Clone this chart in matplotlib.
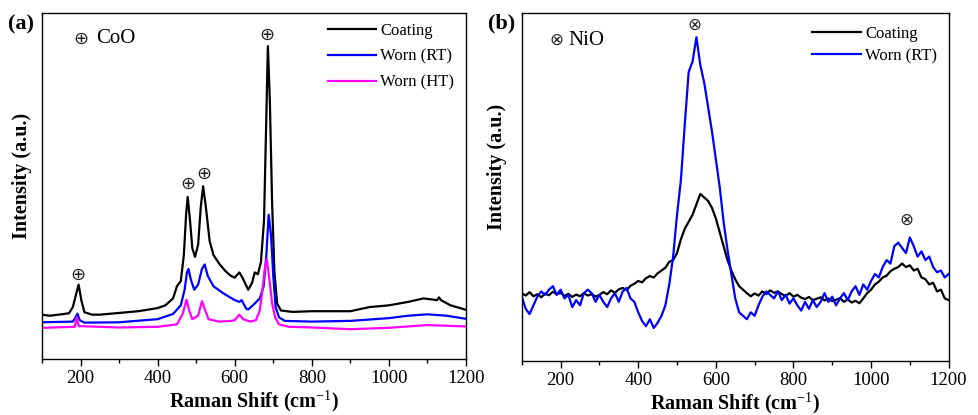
import matplotlib
matplotlib.use("Agg")
import matplotlib.pyplot as plt
from matplotlib.ticker import MultipleLocator

plt.rcParams['font.family'] = ['Liberation Serif', 'DejaVu Sans']
plt.rcParams['mathtext.fontset'] = 'custom'
plt.rcParams['mathtext.rm'] = 'Liberation Serif'
plt.rcParams['mathtext.bf'] = 'Liberation Serif:bold'

# ---------------- Panel (a): CoO ----------------
a_coat_x = [100, 120, 150, 170, 180, 188, 195, 202, 210, 230, 250, 300, 350, 400, 420, 440, 450, 460, 468, 474,
            478, 484, 490, 497, 505, 512, 518, 525, 535, 545, 560, 575, 590, 600, 612, 620, 635, 645, 652, 660,
            668, 676, 681, 686, 691, 697, 703, 710, 720, 750, 800, 850, 900, 950, 1000, 1050, 1090, 1125, 1130,
            1135, 1160, 1200]
a_coat_y = [12.8, 12.5, 12.9, 13.2, 15.0, 18.5, 21.5, 17.0, 13.5, 12.8, 12.8, 13.3, 13.8, 14.7, 15.5, 17.5, 21.0,
            22.5, 30.0, 42.0, 46.8, 40.0, 32.0, 29.5, 33.0, 44.0, 49.9, 44.0, 34.0, 30.0, 27.5, 25.5, 24.0, 23.5,
            25.0, 23.5, 20.0, 22.0, 25.0, 24.5, 28.0, 40.0, 65.0, 90.4, 75.0, 45.0, 25.0, 16.0, 14.0, 13.6, 13.8,
            13.8, 13.8, 15.0, 15.5, 16.5, 17.5, 17.0, 17.8, 17.0, 15.5, 14.2]

a_rt_x = [100, 180, 187, 192, 198, 210, 300, 400, 440, 460, 470, 476, 480, 486, 495, 505, 515, 522, 530, 545,
          570, 600, 612, 618, 630, 635, 650, 665, 675, 682, 688, 694, 700, 706, 715, 730, 800, 900, 1000, 1050,
          1100, 1150, 1200]
a_rt_y = [10.6, 10.8, 12.0, 13.1, 11.2, 10.5, 10.6, 11.5, 13.0, 15.5, 20.0, 25.0, 26.0, 23.0, 20.0, 21.5, 26.0,
          27.3, 24.0, 21.0, 19.0, 17.0, 16.5, 17.0, 14.5, 14.3, 15.8, 17.5, 21.0, 30.0, 41.7, 36.0, 24.0, 15.0,
          12.0, 11.0, 10.8, 11.0, 11.8, 12.5, 12.9, 12.5, 11.6]

a_ht_x = [100, 185, 190, 195, 300, 400, 450, 465, 475, 482, 490, 505, 515, 522, 532, 560, 590, 600, 612, 622,
          640, 655, 665, 672, 678, 683, 690, 697, 705, 715, 740, 800, 900, 1000, 1100, 1200]
a_ht_y = [9.0, 9.3, 12.0, 9.5, 9.1, 9.3, 10.0, 13.0, 17.1, 14.0, 11.5, 12.5, 16.7, 14.5, 11.5, 10.8, 11.0, 11.2,
          12.8, 11.5, 10.8, 11.2, 14.0, 20.0, 26.0, 28.9, 23.0, 16.0, 12.0, 10.0, 9.3, 9.1, 8.6, 9.0, 9.8, 9.4]

a_peaks_x = [193, 478, 519, 683]
a_peaks_y = [24.4, 50.6, 53.5, 93.7]

# ---------------- Panel (b): NiO ----------------
b_x = list(range(100, 1201, 10))
b_coat_y = [19.5, 18.8, 19.8, 18.6, 19.2, 18.3, 19.4, 18.9, 19.9, 19.2, 19.6, 18.7, 19.3, 18.4, 19.1, 18.6,
            19.5, 18.8, 19.2, 18.5, 19.0, 19.8, 19.2, 20.3, 19.6, 20.6, 21.0, 20.4, 21.6, 22.2, 23.0, 22.6,
            23.8, 24.4, 24.0, 25.2, 26.0, 26.8, 28.5, 29.0, 31.0, 35.0, 38.0, 40.0, 42.0, 45.0, 48.0, 47.0,
            46.0, 44.0, 41.0, 37.0, 33.0, 29.0, 26.0, 23.5, 21.5, 20.5, 19.5, 18.6, 19.4, 18.8, 20.0, 19.2,
            20.3, 19.6, 20.0, 19.2, 18.7, 19.5, 18.5, 19.0, 18.2, 17.8, 18.4, 17.5, 17.9, 18.3, 17.4, 18.0,
            17.2, 17.6, 18.1, 17.0, 17.7, 16.8, 17.3, 16.6, 18.0, 19.5, 20.5, 22.0, 22.8, 24.0, 24.5, 25.8,
            26.5, 27.0, 28.0, 27.0, 27.5, 26.0, 26.5, 24.0, 23.5, 22.0, 22.5, 20.0, 20.5, 18.0, 17.5]
b_rt_y = [18.5, 15.0, 13.5, 16.0, 18.5, 20.0, 19.0, 20.5, 21.5, 19.0, 20.5, 18.0, 19.0, 15.5, 17.5, 16.0,
          19.5, 20.5, 19.5, 17.0, 19.0, 17.0, 15.5, 18.0, 19.5, 17.0, 20.0, 21.0, 18.0, 17.0, 14.0, 11.5,
          10.0, 12.0, 9.5, 11.0, 13.0, 16.0, 22.0, 30.0, 42.0, 52.0, 68.0, 83.0, 86.0, 93.0, 85.0, 80.0,
          73.0, 66.0, 58.0, 50.0, 40.0, 32.0, 25.0, 18.0, 14.0, 13.0, 12.0, 14.0, 13.0, 16.0, 18.5, 20.0,
          19.0, 18.0, 20.0, 17.5, 19.0, 16.5, 18.0, 16.0, 14.5, 17.0, 15.0, 17.5, 15.5, 17.0, 19.5, 17.0,
          18.5, 16.0, 18.0, 19.5, 17.5, 20.0, 21.5, 19.0, 22.0, 20.5, 23.0, 25.0, 24.0, 27.0, 29.0, 28.0,
          33.0, 34.0, 32.5, 31.0, 35.5, 33.0, 30.0, 31.5, 29.0, 30.0, 27.0, 25.5, 26.0, 24.0, 25.0]

b_peaks_x = [546, 1090]
b_peaks_y = [96.6, 40.5]

x_ticks = [200, 400, 600, 800, 1000, 1200]

BLUE = '#0000ff'
MAGENTA = '#ff00ff'

fig = plt.figure(figsize=(9.79, 4.15), dpi=100)
axa = fig.add_axes([0.0429, 0.135, 0.4331, 0.834])
axb = fig.add_axes([0.533, 0.130, 0.436, 0.839])

lw = 1.6
axa.plot(a_coat_x, a_coat_y, color='black', lw=lw, label='Coating')
axa.plot(a_rt_x, a_rt_y, color=BLUE, lw=lw, label='Worn (RT)')
axa.plot(a_ht_x, a_ht_y, color=MAGENTA, lw=lw, label='Worn (HT)')
for px, py in zip(a_peaks_x, a_peaks_y):
    axa.text(px, py, '\u2295', ha='center', va='center', fontsize=13, color='#222222',
             family=['DejaVu Sans'])
axa.text(0.075, 0.925, '\u2295', transform=axa.transAxes, fontsize=13, va='center', ha='left',
         color='#222222', family=['DejaVu Sans'])
axa.text(0.128, 0.925, 'CoO', transform=axa.transAxes, fontsize=15, va='center', ha='left')

axb.plot(b_x, b_coat_y, color='black', lw=lw, label='Coating')
axb.plot(b_x, b_rt_y, color=BLUE, lw=lw, label='Worn (RT)')
for px, py in zip(b_peaks_x, b_peaks_y):
    axb.text(px, py, '\u2297', ha='center', va='center', fontsize=12, color='#222222',
             family=['DejaVu Sans'])
axb.text(0.064, 0.922, '\u2297', transform=axb.transAxes, fontsize=12, va='center', ha='left',
         color='#222222', family=['DejaVu Sans'])
axb.text(0.11, 0.922, 'NiO', transform=axb.transAxes, fontsize=15, va='center', ha='left')

for ax in (axa, axb):
    ax.set_xlim(100, 1200)
    ax.set_ylim(0, 100)
    ax.set_xticks(x_ticks)
    ax.xaxis.set_minor_locator(MultipleLocator(100))
    ax.tick_params(axis='x', which='major', direction='out', length=5, width=1, labelsize=13.5, pad=3)
    ax.tick_params(axis='x', which='minor', direction='out', length=3, width=1)
    ax.set_yticks([])
    for s in ax.spines.values():
        s.set_linewidth(1.0)
    ax.set_xlabel('Raman Shift (cm$^{-1}$)', fontsize=14.5, fontweight='bold', labelpad=0.5)
    ax.set_ylabel('Intensity (a.u.)', fontsize=14.5, fontweight='bold')

axa.yaxis.set_label_coords(-0.024, 0.53)
axb.yaxis.set_label_coords(-0.035, 0.557)

axa.legend(loc='upper right', bbox_to_anchor=(1.0, 1.005), frameon=False, fontsize=12,
           handlelength=2.9, handletextpad=0.25, labelspacing=0.6, borderaxespad=0.3)
axb.legend(loc='upper right', bbox_to_anchor=(1.0, 0.995), frameon=False, fontsize=12,
           handlelength=2.9, handletextpad=0.25, labelspacing=0.35, borderaxespad=0.3)

fig.text(0.008, 0.94, '(a)', fontsize=16, fontweight='bold', va='center', ha='left')
fig.text(0.498, 0.943, '(b)', fontsize=16, fontweight='bold', va='center', ha='left')

fig.savefig('out.png', dpi=100)
